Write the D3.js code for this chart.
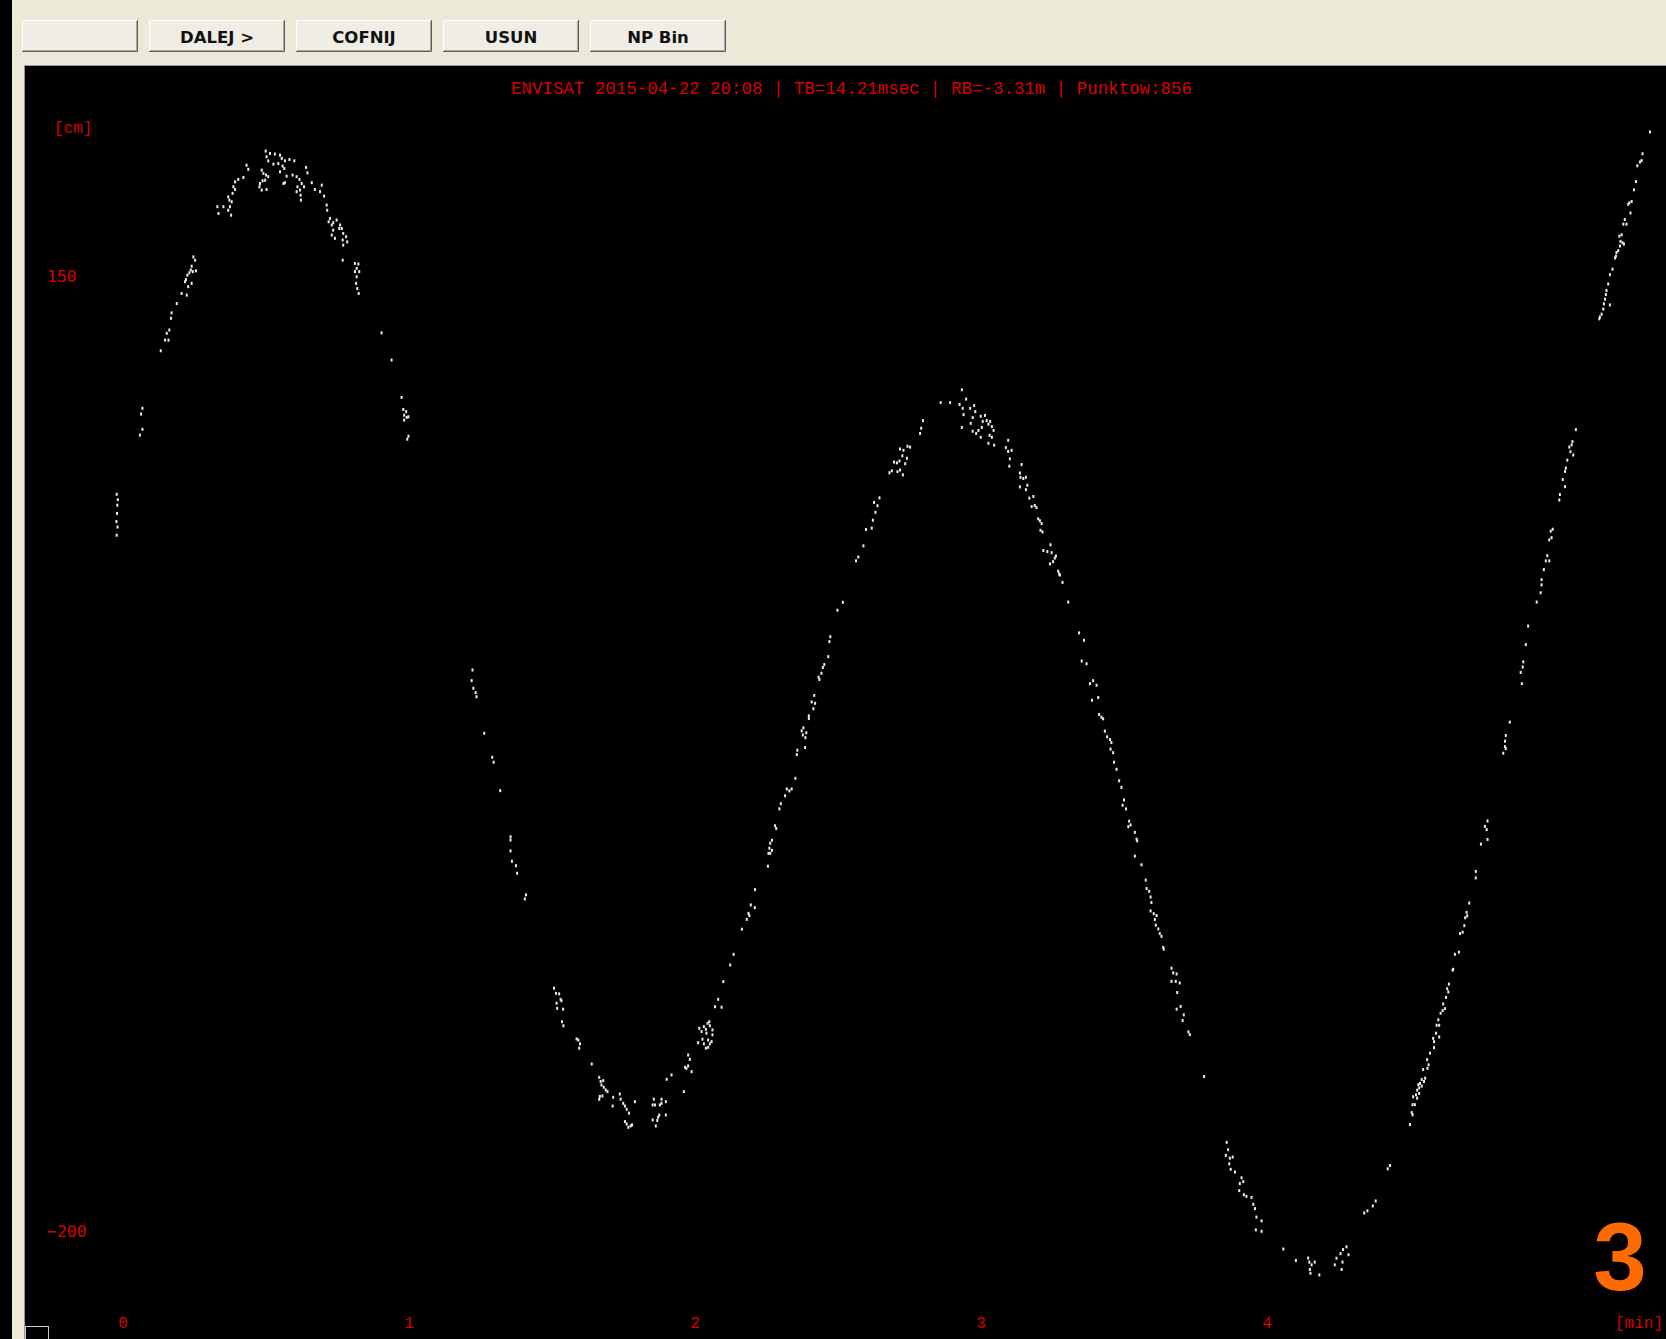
<!DOCTYPE html>
<html>
<head>
<meta charset="utf-8">
<script src="https://cdn.jsdelivr.net/npm/d3@7"></script>
<style>
  html, body { margin: 0; padding: 0; background: #ece9d8; overflow: hidden; }
  svg { display: block; }
</style>
</head>
<body>
<svg id="chart" width="1666" height="1339"></svg>
<script>
// Toolbar buttons and header text
const buttonLabels = ["", "DALEJ >", "COFNIJ", "USUN", "NP Bin"];
const titleText = "ENVISAT 2015-04-22 20:08 | TB=14.21msec | RB=-3.31m | Punktow:856";
const passNumber = "3";

// Axis ticks: time in minutes, range residual in cm
const xTicks = [0, 1, 2, 3, 4];
const yTicks = [150, -200];
const xUnit = "[min]";
const yUnit = "[cm]";

// Normal points [minutes, cm], grouped by arc of the residual curve
const arcFirstPeak = [
  [-0.022,70],[-0.018,68],[-0.020,66],[-0.021,63],[-0.023,60],[-0.019,58],[-0.022,55],
  [0.068,101.5],[0.063,99.4],[0.068,93.8],[0.059,91.7],
  [0.132,122.6],[0.147,126.5],[0.159,126.5],[0.153,129.0],[0.162,130.2],[0.168,134.5],[0.170,136.5],[0.188,139.9],[0.205,143.6],[0.223,143.0],[0.228,146.1],[0.240,147.3],[0.217,147.9],[0.220,148.7],[0.225,150.3],[0.232,151.2],[0.244,151.6],[0.255,151.9],[0.237,152.2],[0.240,153.6],[0.252,155.8],[0.246,157.0],
  [0.330,175.4],[0.334,172.9],[0.351,175.4],[0.368,174.1],[0.378,172.3],[0.374,175.4],[0.380,177.2],[0.372,177.8],[0.368,179.0],[0.383,180.3],[0.392,181.7],[0.386,182.7],[0.392,184.5],[0.403,185.4],[0.421,186.1],[0.438,189.1],[0.432,190.6],
  [0.477,182.7],[0.479,183.9],[0.485,181.5],[0.488,184.9],[0.497,185.1],[0.502,181.7],[0.508,186.4],[0.500,187.0],[0.491,187.6],[0.485,188.8],
  [0.499,195.8],[0.502,193.7],[0.508,192.2],[0.514,194.9],[0.526,191.0],[0.531,194.7],[0.543,191.2],[0.549,194.3],[0.555,193.1],[0.558,190.3],[0.564,189.4],[0.549,188.2],[0.566,192.2],[0.582,192.7],[0.599,192.2],[0.572,186.6],[0.566,184.2],[0.561,183.9],[0.593,187.0],[0.607,186.4],[0.617,185.4],[0.625,183.9],[0.633,182.7],[0.610,182.7],[0.619,181.5],[0.607,180.9],[0.621,179.6],[0.622,177.8],
  [0.640,189.8],[0.645,187.8],[0.660,184.2],[0.671,181.7],[0.695,183.3],[0.689,180.9],[0.703,179.3],[0.712,176.0],[0.714,174.1],[0.724,171.1],[0.719,169.9],[0.730,168.7],[0.735,169.5],[0.747,170.5],[0.759,168.7],[0.756,167.4],[0.765,167.4],[0.735,166.8],[0.770,165.6],[0.730,165.0],[0.780,164.4],[0.741,163.8],[0.768,163.2],[0.784,162.5],[0.770,161.3],[0.768,155.8],
  [0.811,154.6],[0.823,154.4],[0.817,152.8],[0.826,151.6],[0.811,151.6],[0.817,149.7],[0.815,147.3],[0.819,145.4],[0.824,143.6],
  [0.904,129.2],[0.939,119.2],[0.974,105.5],[0.980,101.1],[0.990,100.3],[0.983,99.0],[0.998,98.4],[0.992,98.2],[0.983,97.2],[0.998,91.3],[0.994,90.2]
];

const arcFirstTrough = [
  [1.222,5.6],[1.219,1.7],[1.225,-1.1],[1.233,-2.7],[1.236,-4.2],[1.263,-17.6],[1.291,-26.4],[1.296,-28.2],[1.319,-38.6],[1.355,-55.5],[1.355,-56.7],[1.355,-60.7],[1.360,-64.5],[1.374,-66.1],[1.378,-68.9],[1.409,-76.8],[1.405,-78.3],
  [1.507,-111.0],[1.514,-112.9],[1.525,-113.1],[1.530,-115.1],[1.516,-116.5],[1.533,-115.6],[1.518,-118.4],[1.539,-118.7],[1.535,-123.3],[1.540,-124.8],[1.586,-129.6],[1.592,-130.0],[1.598,-131.4],[1.595,-133.0],[1.639,-138.8],
  [1.665,-143.7],[1.670,-145.2],[1.679,-144.9],[1.673,-146.5],[1.681,-147.3],[1.688,-148.3],[1.694,-148.9],[1.667,-150.7],[1.676,-150.5],[1.665,-151.7],[1.714,-151.0],[1.712,-154.2],[1.737,-149.8],[1.740,-151.7],[1.749,-153.2],[1.755,-154.2],[1.761,-155.4],[1.769,-156.8],[1.755,-159.9],[1.761,-160.8],[1.767,-162.0],[1.775,-161.5],[1.780,-161.1],[1.790,-152.6],
  [1.856,-151.7],[1.883,-151.7],[1.852,-153.8],[1.860,-153.8],[1.877,-153.8],[1.883,-153.2],[1.898,-152.6],[1.875,-157.5],[1.871,-158.3],[1.868,-159.5],[1.863,-161.5],[1.852,-159.3],[1.898,-157.5],[1.961,-148.9],[1.901,-144.4],[1.918,-142.8],
  [1.976,-135.5],[1.982,-137.1],[1.976,-139.5],[1.970,-140.4],[1.965,-140.0],[1.988,-141.6],
  [2.015,-125.7],[2.023,-126.9],[2.031,-125.1],[2.038,-126.1],[2.040,-127.5],[2.044,-123.9],[2.050,-123.3],[2.052,-124.8],[2.061,-126.3],[2.061,-128.1],[2.011,-131.0],[2.026,-129.7],[2.031,-131.4],[2.046,-130.0],[2.052,-131.4],[2.046,-132.7],[2.038,-133.0],[2.058,-130.6],
  [2.070,-117.8],[2.081,-115.1],[2.093,-118.0],[2.099,-108.6]
];

const arcSecondPeak = [
  [2.123,-102.5],[2.135,-98.6],[2.164,-89.4],[2.181,-85.8],[2.190,-84.4],[2.187,-83.6],[2.209,-81.5],[2.195,-80.5],[2.210,-74.9],[2.255,-66.3],[2.257,-61.6],[2.263,-61.6],[2.269,-60.5],[2.260,-59.7],[2.263,-57.9],[2.269,-56.8],[2.284,-52.5],[2.280,-51.5],[2.295,-45.3],[2.300,-43.4],[2.315,-40.5],[2.330,-38.7],[2.321,-38.0],[2.338,-38.0],[2.351,-34.1],[2.356,-25.4],[2.358,-23.8],[2.385,-22.8],[2.386,-19.2],[2.377,-18.2],[2.389,-17.4],[2.373,-16.7],[2.379,-15.6],[2.398,-12.2],[2.398,-11.2],[2.414,-8.6],[2.420,-6.6],[2.408,-6.1],[2.417,-3.7],[2.435,2.1],[2.432,3.0],[2.442,4.4],[2.447,6.5],[2.452,7.6],[2.466,10.5],[2.470,16.0],[2.473,17.8],[2.498,27.5],[2.517,30.4],
  [2.563,45.6],[2.571,47.0],[2.589,51.1],[2.598,57.1],[2.618,57.6],[2.622,60.5],[2.631,63.4],[2.638,65.8],[2.626,67.0],[2.645,68.7],
  [2.680,77.9],[2.688,78.6],[2.708,78.3],[2.717,78.9],[2.727,77.1],[2.735,81.2],[2.741,83.2],[2.696,81.8],[2.706,81.5],[2.715,82.2],[2.725,84.1],[2.717,86.6],[2.729,86.1],[2.743,87.6],[2.752,87.3],[2.787,92.3],[2.791,94.2],[2.797,97.0],
  [2.859,103.6],[2.892,103.6],[2.933,108.3],[2.948,104.9],[2.925,102.9],[2.936,101.5],[2.939,99.2],[2.933,94.5],[2.962,101.5],[2.976,102.5],[2.980,100.3],[2.971,98.1],[2.964,96.0],[2.971,93.1],[2.983,92.3],[2.991,93.4],[2.999,90.9],[2.999,98.6],[3.014,98.9],[3.006,96.7],[3.003,94.5],[3.020,97.0],[3.026,95.7],[3.032,96.7],[3.038,94.8],[3.044,93.4],[3.030,91.6],[3.038,90.9],[3.026,88.7],[3.046,88.0]
];

const arcSecondTrough = [
  [3.095,89.8],[3.087,87.1],[3.095,85.7],[3.107,86.1],[3.101,83.0],[3.099,80.3],[3.142,80.9],[3.136,77.8],[3.138,76.2],[3.148,75.8],[3.157,76.2],[3.136,72.7],[3.157,71.7],[3.162,73.3],[3.169,68.6],[3.183,69.2],[3.177,65.5],[3.188,65.9],[3.194,65.1],[3.200,61.0],[3.206,60.3],[3.212,59.3],[3.208,56.8],[3.215,56.2],[3.218,49.4],[3.232,49.0],[3.243,51.5],[3.247,48.6],[3.241,44.5],[3.252,45.3],[3.258,46.6],[3.262,47.4],[3.270,41.8],[3.276,40.4],[3.273,40.8],[3.285,37.7],[3.305,30.5],[3.343,19.2],[3.360,16.5],[3.352,8.9],[3.369,7.9],[3.381,0.6],[3.392,1.7],[3.404,0.0],[3.388,-5.5],[3.410,-4.5],[3.413,-10.7],[3.421,-11.7],[3.427,-12.3],[3.433,-16.8],[3.441,-18.9],[3.451,-19.9],[3.456,-21.0],[3.453,-23.4],[3.462,-24.7],[3.465,-28.2],[3.474,-30.8],[3.483,-35.0],[3.491,-37.4],[3.500,-42.0],[3.495,-44.0],[3.507,-45.3],[3.518,-49.8],[3.523,-51.2],[3.515,-51.8],[3.538,-53.9],[3.544,-56.4],[3.546,-57.0],[3.538,-62.6],[3.561,-65.8],[3.576,-71.4],[3.579,-74.5],[3.588,-75.5],[3.593,-77.6],[3.596,-79.6],[3.593,-82.7],[3.604,-83.7],[3.608,-85.8],[3.614,-84.4],[3.611,-87.9],[3.620,-89.3],[3.625,-91.0],[3.631,-92.0],[3.637,-96.1],[3.639,-96.7],[3.666,-103.7],[3.672,-105.4],[3.684,-105.8],[3.666,-108.5],[3.681,-108.5],[3.695,-109.1],[3.686,-112.6],[3.698,-117.7],[3.684,-118.7],[3.709,-120.8],[3.705,-122.9],[3.725,-127.0],[3.730,-128.0],[3.780,-143.4],
  [3.859,-167.5],[3.864,-170.2],[3.856,-172.3],[3.870,-173.3],[3.880,-172.9],[3.868,-175.4],[3.873,-177.4],[3.888,-178.4],[3.911,-180.5],[3.917,-181.9],[3.905,-182.6],[3.903,-185.2],[3.919,-186.7],[3.928,-187.3],[3.946,-187.7],[3.952,-190.2],[3.958,-191.8],[3.963,-194.9],[3.981,-196.3],[3.961,-199.6],[3.981,-200.1],
  [4.057,-206.6],[4.101,-210.8],[4.144,-209.9],[4.148,-211.4],[4.156,-212.4],[4.150,-214.1],[4.167,-211.4],[4.152,-215.5],[4.183,-216.1],[4.237,-212.4],[4.243,-210.0],[4.257,-208.3],[4.264,-211.4],[4.261,-214.1],[4.278,-205.8],[4.285,-208.7],[4.266,-206.8],
  [4.340,-193.4],[4.351,-192.6],[4.370,-190.8],[4.380,-189.0],[4.422,-177.2],[4.430,-176.0]
];

const arcFinalRise = [
  [4.500,-161.0],[4.509,-157.4],[4.506,-156.6],[4.509,-153.7],[4.517,-153.7],[4.511,-150.8],[4.532,-149.6],[4.525,-151.3],[4.521,-150.1],[4.541,-146.9],[4.525,-148.4],[4.532,-147.6],[4.529,-146.4],[4.535,-145.9],[4.541,-144.5],[4.549,-145.2],[4.553,-144.0],[4.561,-140.4],[4.546,-140.8],[4.565,-139.1],[4.560,-137.2],[4.570,-134.8],[4.584,-132.8],[4.602,-128.9],[4.584,-130.6],[4.581,-129.4],[4.591,-127.5],[4.602,-124.6],[4.593,-124.6],[4.599,-122.6],[4.607,-120.2],[4.622,-118.5],[4.614,-119.2],[4.616,-116.8],[4.626,-114.4],[4.634,-112.4],[4.630,-111.2],[4.636,-109.5],[4.649,-104.4],[4.651,-104.1],[4.657,-98.6],[4.671,-97.8],[4.675,-91.0],[4.684,-90.5],[4.690,-88.1],[4.693,-85.2],[4.700,-84.5],[4.698,-83.2],[4.707,-79.8],[4.730,-70.6],[4.730,-68.2],[4.748,-58.2],[4.771,-56.5],[4.768,-52.9],[4.762,-51.7],[4.771,-49.7],
  [4.826,-24.9],[4.835,-23.2],[4.832,-22.5],[4.832,-20.5],[4.835,-18.4],[4.849,-13.5],[4.891,0.6],[4.887,4.7],[4.894,6.7],[4.896,8.6],[4.905,14.9],[4.913,21.7],[4.943,30.5],[4.957,33.9],[4.960,36.8],[4.960,38.7],[4.968,42.4],[4.987,45.6],[4.975,45.6],[4.980,47.5],[4.987,53.3],[4.995,54.1],[4.992,56.5],[4.999,57.2],[5.022,67.9],[5.024,69.9],[5.042,72.8],[5.034,75.4],[5.042,78.4],[5.045,79.6],[5.050,82.5],[5.071,84.4],[5.061,85.6],[5.057,87.3],[5.065,88.1],[5.068,89.3],[5.080,93.7],
  [5.162,134.3],[5.164,135.0],[5.170,136.0],[5.176,137.9],[5.199,139.4],[5.178,139.8],[5.182,141.5],[5.185,143.2],[5.187,144.7],[5.193,147.1],[5.199,150.5],[5.208,152.5],[5.217,156.6],[5.220,157.3],[5.222,158.6],[5.228,159.3],[5.234,161.0],[5.248,161.7],[5.243,162.2],[5.236,162.7],[5.232,164.6],[5.240,165.1],[5.257,169.0],[5.246,169.0],[5.251,170.7],[5.271,173.1],[5.263,176.3],[5.267,176.8],[5.275,177.3],[5.283,181.6],[5.290,184.6],[5.295,190.4],[5.304,191.8],[5.310,192.3],[5.313,194.8],[5.339,202.8]
];

const points = [].concat(arcFirstPeak, arcFirstTrough, arcSecondPeak, arcSecondTrough, arcFinalRise);

// ---- layout ----
const W = 1666, H = 1339;
const plot = { left: 25, top: 66 };
const red = "#d80000";

const x = d3.scaleLinear().domain([0, 4]).range([123, 1267]);
const y = d3.scaleLinear().domain([-200, 150]).range([1231, 276]);

const svg = d3.select("#chart");

// window background and frames
svg.append("rect").attr("width", W).attr("height", H).attr("fill", "#ece9d8");
svg.append("rect").attr("x", 0).attr("y", 0).attr("width", 12).attr("height", H).attr("fill", "#000");
svg.append("rect").attr("x", plot.left).attr("y", plot.top)
  .attr("width", W - plot.left).attr("height", H - plot.top).attr("fill", "#000");
svg.append("path")
  .attr("d", `M${plot.left - 0.5},${H} V${plot.top - 0.5} H${W}`)
  .attr("fill", "none").attr("stroke", "#9a988f").attr("stroke-width", 1);

// toolbar buttons: the first (unlabelled) one is narrower
const btnStep = 147, btnH = 32, btnTop = 20;
const btnBox = (d, i) => i === 0 ? { x: 22, w: 116 } : { x: 149 + (i - 1) * btnStep, w: 136 };
const btn = svg.append("g").selectAll("g").data(buttonLabels).join("g")
  .attr("transform", (d, i) => `translate(${btnBox(d, i).x},${btnTop})`);
btn.append("rect").attr("width", (d, i) => btnBox(d, i).w).attr("height", btnH).attr("fill", "#efede4");
btn.append("path").attr("d", (d, i) => `M0.5,${btnH} V0.5 H${btnBox(d, i).w}`)
  .attr("fill", "none").attr("stroke", "#ffffff");
btn.append("path").attr("d", (d, i) => `M0,${btnH - 0.5} H${btnBox(d, i).w - 0.5} V0`)
  .attr("fill", "none").attr("stroke", "#5f5e58");
btn.append("path").attr("d", (d, i) => `M1,${btnH - 1.5} H${btnBox(d, i).w - 1.5} V1`)
  .attr("fill", "none").attr("stroke", "#aca899");
btn.append("text")
  .attr("x", (d, i) => btnBox(d, i).w / 2).attr("y", btnH / 2 + 1)
  .attr("text-anchor", "middle").attr("dominant-baseline", "central")
  .attr("font-family", "DejaVu Sans, sans-serif").attr("font-weight", "bold")
  .attr("font-size", 16.5).attr("fill", "#111")
  .text(d => d);

// header line
svg.append("text")
  .attr("x", 851.5).attr("y", 89)
  .attr("text-anchor", "middle").attr("dominant-baseline", "central")
  .attr("font-family", "Liberation Mono, monospace").attr("font-size", 19)
  .attr("textLength", 681).attr("lengthAdjust", "spacingAndGlyphs")
  .attr("fill", red)
  .text(titleText);

// y axis labels
svg.append("text")
  .attr("x", 54).attr("y", 129).attr("dominant-baseline", "central")
  .attr("font-family", "Liberation Mono, monospace").attr("font-size", 16)
  .attr("fill", red).text(yUnit);
svg.append("g").selectAll("text").data(yTicks).join("text")
  .attr("x", 47).attr("y", d => y(d))
  .attr("dominant-baseline", "central")
  .attr("font-family", "DejaVu Sans Mono, monospace").attr("font-size", 16.5)
  .attr("fill", red)
  .text(d => d < 0 ? "\u2212" + Math.abs(d) : d);

// x axis labels
svg.append("g").selectAll("text").data(xTicks).join("text")
  .attr("x", d => x(d)).attr("y", 1324)
  .attr("text-anchor", "middle").attr("dominant-baseline", "central")
  .attr("font-family", "Liberation Mono, monospace").attr("font-size", 16)
  .attr("fill", red)
  .text(d => d);
svg.append("text")
  .attr("x", 1663).attr("y", 1324)
  .attr("text-anchor", "end").attr("dominant-baseline", "central")
  .attr("font-family", "Liberation Mono, monospace").attr("font-size", 16)
  .attr("fill", red).text(xUnit);

// normal points
svg.append("g").selectAll("rect").data(points).join("rect")
  .attr("x", d => x(d[0]) - 1).attr("y", d => y(d[1]) - 1.5)
  .attr("width", 2).attr("height", 3)
  .attr("fill", "#ececec");

// pass number
svg.append("text")
  .attr("x", 1620).attr("y", 1290)
  .attr("text-anchor", "middle")
  .attr("font-family", "Liberation Sans, Arial, sans-serif").attr("font-weight", "bold")
  .attr("font-size", 96).attr("fill", "#ff6a00")
  .text(passNumber);

// small frame in the lower-left corner
svg.append("rect")
  .attr("x", 25.5).attr("y", 1326.5).attr("width", 23).attr("height", 20)
  .attr("fill", "none").attr("stroke", "#c8c8c8");
</script>
</body>
</html>
